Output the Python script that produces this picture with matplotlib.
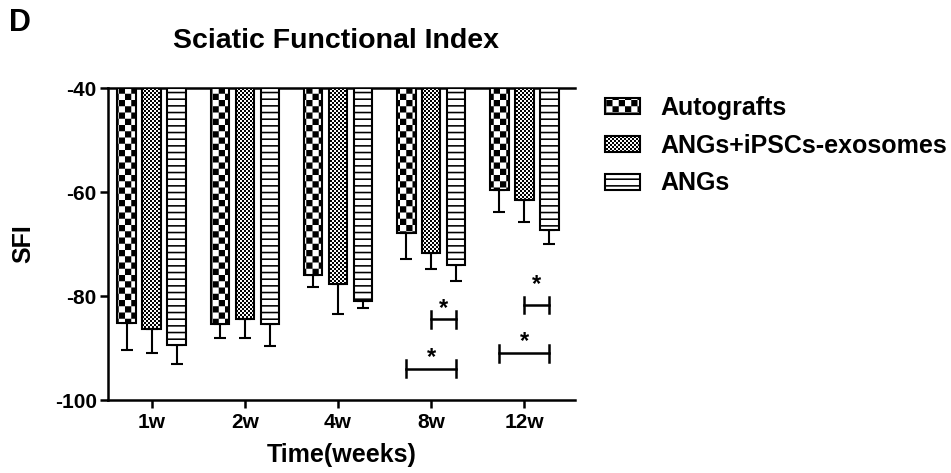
import warnings
import numpy as np
import matplotlib
matplotlib.use("Agg")
import matplotlib.pyplot as plt
import matplotlib.hatch as mhatch
from matplotlib.path import Path

warnings.filterwarnings("ignore")

# ---------------- data ----------------
weeks = ["1w", "2w", "4w", "8w", "12w"]
groups = ["Autografts", "ANGs+iPSCs-exosomes", "ANGs"]
autografts_mean = [-85.1, -85.3, -76.0, -67.9, -59.6]
ipsc_mean = [-86.4, -84.4, -77.6, -71.7, -61.5]
angs_mean = [-89.4, -85.3, -80.9, -74.0, -67.3]
autografts_sd = [5.2, 2.7, 2.2, 5.0, 4.3]
ipsc_sd = [4.5, 3.7, 5.9, 3.1, 4.2]
angs_sd = [3.7, 4.4, 1.5, 3.1, 2.6]
baseline = -40
y_ticks = [-40, -60, -80, -100]
# significance brackets: (week index, group a, group b, bracket y, star y)
brackets = [(3, 1, 2, -84.5, -81.0),
            (3, 0, 2, -94.0, -90.4),
            (4, 1, 2, -81.7, -76.4),
            (4, 0, 2, -91.0, -87.4)]


# ---------------- custom fill patterns ----------------
class PatternHatch(mhatch.HatchPatternBase):
    def __init__(self, hatch, density):
        self.kind = None
        self.num_vertices = 0
        if 'c' in hatch:
            self.kind, self.n = 'checker', 16
        elif 'k' in hatch:
            self.kind, self.n = 'checker', 50
        elif 'h' in hatch:
            self.kind, self.n = 'stripe', 15
        if self.kind == 'checker':
            self.num_vertices = (self.n * self.n // 2) * 5
        elif self.kind == 'stripe':
            self.num_vertices = self.n * 5

    def set_vertices_and_codes(self, vertices, codes):
        sq = [Path.MOVETO, Path.LINETO, Path.LINETO, Path.LINETO, Path.CLOSEPOLY]
        verts, cds = [], []
        if self.kind == 'checker':
            s = 1.0 / self.n
            for i in range(self.n):
                for j in range(self.n):
                    if (i + j) % 2 == 0:
                        x0, y0 = i * s, j * s
                        verts += [(x0, y0), (x0 + s, y0), (x0 + s, y0 + s),
                                  (x0, y0 + s), (x0, y0)]
                        cds += sq
        else:
            s = 1.0 / self.n
            t = 0.016
            for j in range(self.n):
                y0 = j * s
                verts += [(0, y0), (1, y0), (1, y0 + t), (0, y0 + t), (0, y0)]
                cds += sq
        vertices[:] = np.array(verts)
        codes[:] = np.array(cds)


mhatch._hatch_types.append(PatternHatch)
plt.rcParams['hatch.linewidth'] = 0.01
plt.rcParams['font.family'] = ['Liberation Sans', 'DejaVu Sans']
plt.rcParams['font.weight'] = 'bold'
plt.rcParams['axes.unicode_minus'] = False

hatches = ['c', 'k', 'h']
means = [autografts_mean, ipsc_mean, angs_mean]
sds = [autografts_sd, ipsc_sd, angs_sd]

fig = plt.figure(figsize=(9.51, 4.73), dpi=100)
ax = fig.add_axes([0.1133, 0.1543, 0.4913, 0.6596])

x = np.arange(len(weeks))
offset = 0.268
width = 0.2
for gi, (name, m, sd, h) in enumerate(zip(groups, means, sds, hatches)):
    xpos = x + (gi - 1) * offset
    heights = np.array(m) - baseline
    ax.bar(xpos, heights, width, bottom=baseline, color='white',
           edgecolor='black', linewidth=1.5, hatch=h, label=name, zorder=3)
    ax.errorbar(xpos, m, yerr=[sd, np.zeros(len(sd))], fmt='none',
                ecolor='black', elinewidth=1.5, capsize=4, capthick=1.5,
                zorder=2)

for wi, ga, gb, yb, ys in brackets:
    xa = x[wi] + (ga - 1) * offset
    xb = x[wi] + (gb - 1) * offset
    ax.plot([xa, xb], [yb, yb], color='black', lw=1.8, zorder=4)
    ax.plot([xa, xa], [yb - 1.6, yb + 1.6], color='black', lw=1.8, zorder=4)
    ax.plot([xb, xb], [yb - 1.6, yb + 1.6], color='black', lw=1.8, zorder=4)
    ax.annotate('*', xy=((xa + xb) / 2, ys), xytext=(0, -10),
                textcoords='offset points', ha='center', va='baseline',
                fontsize=17, fontweight='bold')

ax.set_xlim(-0.472, 4.544)
ax.set_ylim(-100, -40)
ax.set_yticks(y_ticks)
ax.set_xticks(x)
ax.set_xticklabels(weeks)
ax.tick_params(axis='both', width=1.8, length=6, labelsize=15)
ax.tick_params(axis='y', pad=2)
ax.tick_params(axis='x', pad=3)
ax.spines['right'].set_visible(False)
for sp in ['left', 'bottom', 'top']:
    ax.spines[sp].set_linewidth(1.8)

ax.set_xlabel('Time(weeks)', fontsize=18, fontweight='bold', labelpad=8)
ax.set_ylabel('SFI', fontsize=18, fontweight='bold', labelpad=14)

fig.text(336 / 951, 1 - 41 / 473, 'Sciatic Functional Index', ha='center',
         va='center', fontsize=20.5, fontweight='bold')
fig.text(9 / 951, 1 - 8 / 473, 'D', ha='left', va='top', fontsize=22,
         fontweight='bold')

ax.legend(loc='upper left', bbox_to_anchor=(605 / 951, 1 - 96 / 473),
          bbox_transform=fig.transFigure, frameon=False, fontsize=18,
          handlelength=1.4, handleheight=0.6, handletextpad=0.8,
          labelspacing=0.55, borderpad=0, borderaxespad=0)

fig.savefig('out.png', dpi=100)
